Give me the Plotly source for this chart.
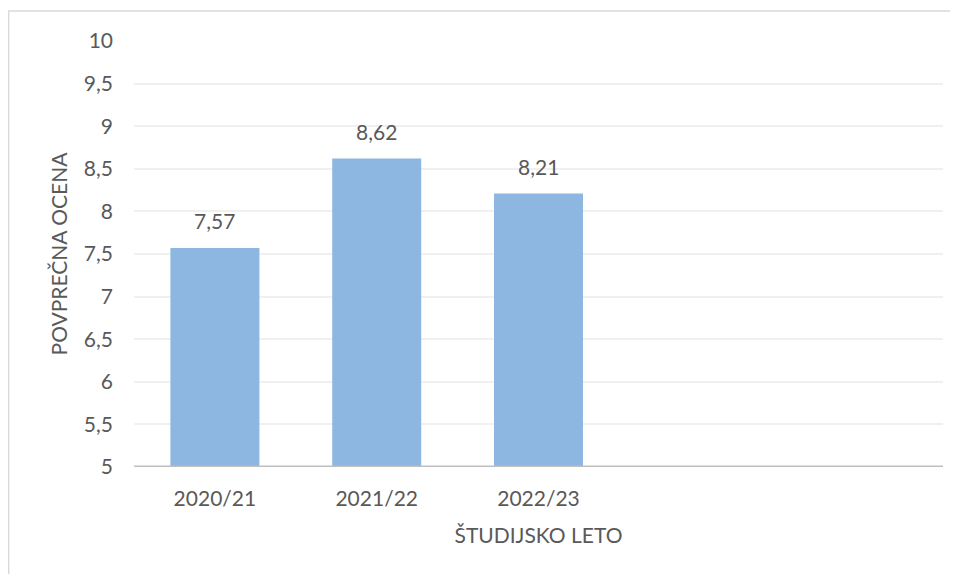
import plotly.graph_objects as go

categories = ["2020/21", "2021/22", "2022/23"]
values = [7.57, 8.62, 8.21]
y_ticks = [5, 5.5, 6, 6.5, 7, 7.5, 8, 8.5, 9, 9.5, 10]

FONT = "Lato"
TXT = "#595959"
# page body adds an 8px offset, so the figure is sized to fit the window
W, H = 950, 566
L, R, T, B = 125.5, 14.5, 33, 107

fig = go.Figure()
fig.add_trace(go.Bar(
    x=categories, y=values,
    marker=dict(color="#8DB6E1", line=dict(width=0)),
    hoverinfo="x+y",
))

for c, v in zip(categories, values):
    fig.add_annotation(
        x=c, y=v, text=f"{v:.2f}".replace(".", ","),
        showarrow=False, yanchor="bottom", yshift=13,
        font=dict(family=FONT, size=21, color=TXT),
    )

pw = W - L - R
ph = H - T - B
x0 = (0 - L) / pw
x1 = (W + 20 - L) / pw
y1 = (H - B - 3) / ph
y0 = (H - B - 600) / ph
fig.add_shape(type="rect", xref="paper", yref="paper",
              x0=x0, x1=x1, y0=y0, y1=y1,
              line=dict(color="#D9D9D9", width=1.5), fillcolor="rgba(0,0,0,0)",
              layer="below")

fig.update_layout(
    width=W, height=H,
    margin=dict(l=L, r=R, t=T, b=B),
    paper_bgcolor="white", plot_bgcolor="white",
    separators=", ",
    bargap=0.45,
    showlegend=False,
    font=dict(family=FONT, size=21, color=TXT),
    xaxis=dict(
        type="category",
        range=[-0.5, 4.5],
        showgrid=False,
        showline=False,
        ticks="",
        ticklabelstandoff=17,
        tickfont=dict(family=FONT, size=21, color=TXT),
        title=dict(text="ŠTUDIJSKO LETO", font=dict(family=FONT, size=21, color=TXT), standoff=19),
        fixedrange=True,
    ),
    yaxis=dict(
        range=[5, 10],
        tickvals=y_ticks,
        ticktext=[str(t).replace(".", ",") for t in y_ticks],
        showgrid=True, gridcolor="#F0F0F0", gridwidth=1.5,
        showline=False,
        zeroline=False,
        ticks="",
        ticklabelstandoff=20,
        tickfont=dict(family=FONT, size=21, color=TXT),
        title=dict(text="POVPREČNA OCENA", font=dict(family=FONT, size=21, color=TXT), standoff=10),
        fixedrange=True,
    ),
)

fig.add_shape(type="line", xref="paper", yref="y", x0=0, x1=1, y0=5, y1=5,
              line=dict(color="#BFBFBF", width=3), layer="above")

fig.write_html("out.html")
